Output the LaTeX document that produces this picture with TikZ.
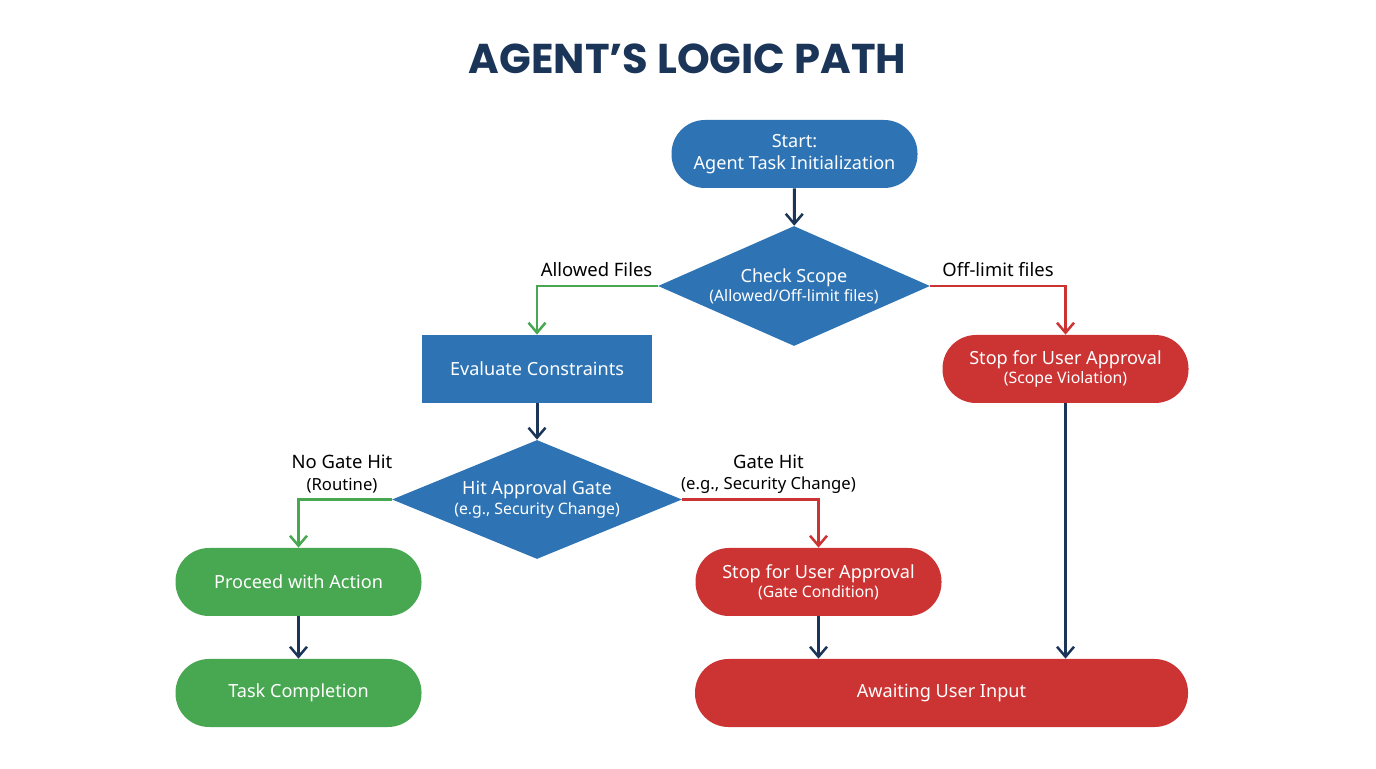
\documentclass[tikz,border=0pt]{standalone}
\usepackage{fontspec}
\setmainfont{Noto Sans}
\newfontfamily\titlefont{Poppins}
\usetikzlibrary{arrows.meta,shapes.geometric}
\definecolor{flowblue}{HTML}{2E74B5}
\definecolor{flowgreen}{HTML}{48A851}
\definecolor{flowred}{HTML}{CC3333}
\definecolor{flownavy}{HTML}{1B3559}

\begin{document}
\begin{tikzpicture}
        [font=\fontsize{10.3}{12.4}\selectfont,
        step box/.style = {rectangle,
        minimum width = 4.6cm,
        minimum height = 1.36cm,
        inner sep = 0pt,
        text=white,
        align=center},
        pill/.style = {step box,
        minimum width = 4.92cm,
        rounded corners = 0.67cm},
        decision/.style = {diamond,
        shape aspect = 2.3,
        inner sep = 0pt,
        text=white,
        align=center,
        fill=flowblue},
        tag/.style = {align=center, text=black, font=\fontsize{10.5}{12}\selectfont},
        link/.style = {line width=0.05cm, -{Straight Barb[length=0.2cm,width=0.34cm,line width=0.05cm]}},
        flow/.style = {link, line width=0.06cm, flownavy},
        yes/.style = {link, flowgreen},
        no/.style = {link, flowred}]

        \useasboundingbox (0,0) rectangle (27.52,15.36);

        % Title
        \node[text=flownavy,font=\titlefont\bfseries\fontsize{23.7}{28}\selectfont] (title) at (13.75,14.18) {AGENT’S LOGIC PATH};

        % Top of the path
        \node[pill,fill=flowblue] (start) at (15.89,12.28) {Start:\\Agent Task Initialization};
        \node[decision,minimum width=5.44cm,minimum height=2.4cm] (scope) at (15.88,9.64)
            {Check Scope\\[-1.5pt]{\fontsize{9}{11}\selectfont (Allowed/Off-limit files)}};

        % Left branch
        \node[step box,fill=flowblue] (eval) at (10.74,7.98) {Evaluate Constraints};
        \node[decision,minimum width=5.8cm,minimum height=2.38cm] (gate) at (10.74,5.37)
            {Hit Approval Gate\\[-1.5pt]{\fontsize{9}{11}\selectfont (e.g., Security Change)}};
        \node[pill,fill=flowgreen] (proceed) at (5.97,3.72) {Proceed with Action};
        \node[pill,fill=flowgreen] (done) at (5.97,1.5) {Task Completion};

        % Stops
        \node[pill,fill=flowred] (stopscope) at (21.31,7.98)
            {Stop for User Approval\\[-1.5pt]{\fontsize{9}{11}\selectfont (Scope Violation)}};
        \node[pill,fill=flowred] (stopgate) at (16.37,3.72)
            {Stop for User Approval\\[-1.5pt]{\fontsize{9}{11}\selectfont (Gate Condition)}};
        \node[pill,fill=flowred,minimum width=9.86cm] (await) at (18.83,1.5) {Awaiting User Input};

        % Branch labels
        \node[tag] (allowed) at (11.93,9.96) {Allowed Files};
        \node[tag] (offlimit) at (19.96,9.96) {Off-limit files};
        \node[tag] (nohit) at (6.84,5.88) {No Gate Hit\\{\fontsize{9.5}{11}\selectfont (Routine)}};
        \node[tag] (hit) at (15.37,5.88) {Gate Hit\\{\fontsize{9.5}{11}\selectfont (e.g., Security Change)}};

        % Connectors
        \draw[flow] (start) -- (scope);
        \draw[yes] (scope.west) -| (eval.north);
        \draw[no] (scope.east) -| (stopscope.north);
        \draw[flow] (eval) -- (gate);
        \draw[yes] (gate.west) -| (proceed.north);
        \draw[no] (gate.east) -| (stopgate.north);
        \draw[flow] (proceed) -- (done);
        \draw[flow] (stopgate.south) -- (stopgate.south |- await.north);
        \draw[flow] (stopscope.south) -- (stopscope.south |- await.north);
    \end{tikzpicture}
\end{document}
